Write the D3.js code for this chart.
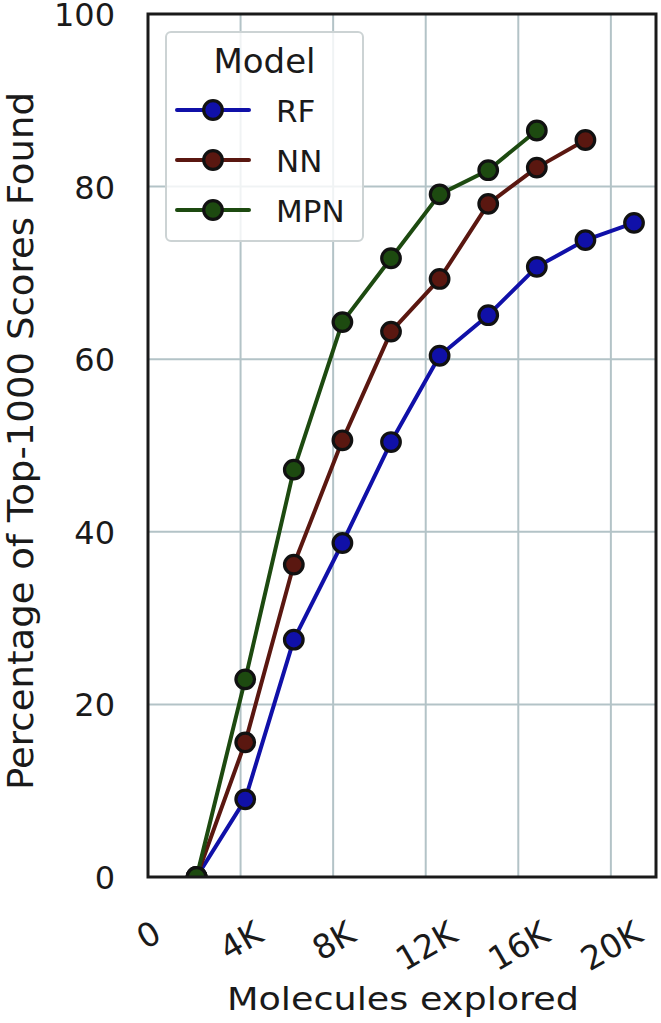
<!DOCTYPE html>
<html>
<head>
<meta charset="utf-8">
<script src="https://cdn.jsdelivr.net/npm/d3@7"></script>
<style>
  html, body { margin: 0; padding: 0; background: #fff; }
  svg { display: block; }
  text { font-family: "DejaVu Sans", sans-serif; fill: #1a1a1a; }
</style>
</head>
<body>
<div id="chart"></div>
<script>
const molecules = [2100, 4200, 6300, 8400, 10500, 12600, 14700, 16800, 18900, 21000];
const rfValues  = [0, 9.0, 27.5, 38.7, 50.4, 60.4, 65.1, 70.7, 73.8, 75.8];
const nnValues  = [0, 15.6, 36.2, 50.6, 63.2, 69.3, 78.0, 82.2, 85.4];
const mpnValues = [0, 22.9, 47.2, 64.3, 71.7, 79.1, 81.9, 86.5];
const seriesNames = ["RF", "NN", "MPN"];
const seriesColors = ["#1010a8", "#5a1710", "#1d4a10"];
const xTickValues = [0, 4000, 8000, 12000, 16000, 20000];
const xTickLabels = ["0", "4K", "8K", "12K", "16K", "20K"];
const yTickValues = [0, 20, 40, 60, 80, 100];
const legendTitle = "Model";
const xTitle = "Molecules explored";
const yTitle = "Percentage of Top-1000 Scores Found";

const W = 661, H = 1023;
const L = 148, R = 656, T = 14, B = 877;

const svg = d3.select("#chart").append("svg").attr("width", W).attr("height", H);

const x = d3.scaleLinear().domain([0, 21950]).range([L, R]);
const y = d3.scaleLinear().domain([0, 100]).range([B, T]);

// grid
const grid = svg.append("g");
grid.selectAll("line.vx").data(xTickValues.filter(d => d > 0)).enter().append("line")
  .attr("x1", d => x(d)).attr("x2", d => x(d)).attr("y1", T).attr("y2", B)
  .attr("stroke", "#b3c3c7").attr("stroke-width", 2);
grid.selectAll("line.hy").data(yTickValues.filter(d => d > 0 && d < 100)).enter().append("line")
  .attr("x1", L).attr("x2", R).attr("y1", d => y(d)).attr("y2", d => y(d))
  .attr("stroke", "#b3c3c7").attr("stroke-width", 2);

// clip
svg.append("clipPath").attr("id", "plotclip").append("rect")
  .attr("x", L).attr("y", T).attr("width", R - L).attr("height", B - T);

const dataSets = [rfValues, nnValues, mpnValues];
const plot = svg.append("g").attr("clip-path", "url(#plotclip)");
const line = d3.line().x(d => x(d[0])).y(d => y(d[1]));

dataSets.forEach((vals, i) => {
  const pts = vals.map((v, j) => [molecules[j], v]);
  const g = plot.append("g");
  g.append("path").datum(pts).attr("d", line)
    .attr("fill", "none").attr("stroke", seriesColors[i]).attr("stroke-width", 4)
    .attr("stroke-linejoin", "round");
  g.selectAll("circle").data(pts).enter().append("circle")
    .attr("cx", d => x(d[0])).attr("cy", d => y(d[1])).attr("r", 9.3)
    .attr("fill", seriesColors[i]).attr("stroke", "#111").attr("stroke-width", 3.2);
});

// frame
svg.append("rect").attr("x", L).attr("y", T).attr("width", R - L).attr("height", B - T)
  .attr("fill", "none").attr("stroke", "#1a1a1a").attr("stroke-width", 3);

// y axis tick labels
const yAxis = d3.axisLeft(y).tickValues(yTickValues).tickSize(0).tickPadding(33);
const yg = svg.append("g").attr("transform", `translate(${L},0)`).call(yAxis);
yg.select(".domain").remove();
yg.selectAll("text").attr("font-size", 32).attr("font-family", "DejaVu Sans")
  .attr("fill", "#1a1a1a").attr("dy", null).attr("dominant-baseline", "auto")
  .attr("y", 11.5);

// x axis tick labels (rotated)
const xAxis = d3.axisBottom(x).tickValues(xTickValues).tickFormat((d, i) => xTickLabels[i]).tickSize(0);
const xg = svg.append("g").attr("transform", `translate(0,${B})`).call(xAxis);
xg.select(".domain").remove();
xg.selectAll("text").each(function() {
  const t = d3.select(this);
  t.attr("font-size", 33).attr("font-family", "DejaVu Sans").attr("fill", "#1a1a1a")
   .attr("text-anchor", "middle").attr("dy", null).attr("y", 0).attr("dominant-baseline", "central");
  const bb = this.getBBox();
  const a = 30 * Math.PI / 180;
  const vert = bb.width * Math.sin(a) + 0.75 * bb.height * Math.cos(a);
  const cy = 40 + vert / 2;
  t.attr("y", cy).attr("transform", `rotate(-30, 0, ${cy})`);
});

// axis titles
svg.append("text").attr("x", (L + R) / 2 + 1).attr("y", 1010)
  .attr("text-anchor", "middle").attr("font-size", 32)
  .attr("textLength", 352).attr("lengthAdjust", "spacingAndGlyphs")
  .text(xTitle);

svg.append("text").attr("transform", `translate(33,441) rotate(-90)`)
  .attr("text-anchor", "middle").attr("font-size", 36)
  .attr("textLength", 698).attr("lengthAdjust", "spacingAndGlyphs")
  .text(yTitle);

// legend
const lg = svg.append("g");
lg.append("rect").attr("x", 166).attr("y", 32).attr("width", 197).attr("height", 209)
  .attr("rx", 5).attr("fill", "#fff").attr("fill-opacity", 0.8)
  .attr("stroke", "#ccd3d4").attr("stroke-width", 2);
lg.append("text").attr("x", 264.5).attr("y", 73).attr("text-anchor", "middle")
  .attr("font-size", 34).text(legendTitle);
const rowY = [110, 160, 210];
seriesNames.forEach((name, i) => {
  const cy = rowY[i];
  lg.append("line").attr("x1", 177).attr("x2", 249).attr("y1", cy).attr("y2", cy)
    .attr("stroke", seriesColors[i]).attr("stroke-width", 4).attr("stroke-linecap", "round");
  lg.append("circle").attr("cx", 213).attr("cy", cy).attr("r", 9.3)
    .attr("fill", seriesColors[i]).attr("stroke", "#111").attr("stroke-width", 3.2);
  lg.append("text").attr("x", 276).attr("y", cy + 11.5).attr("font-size", 31).text(name);
});
</script>
</body>
</html>
